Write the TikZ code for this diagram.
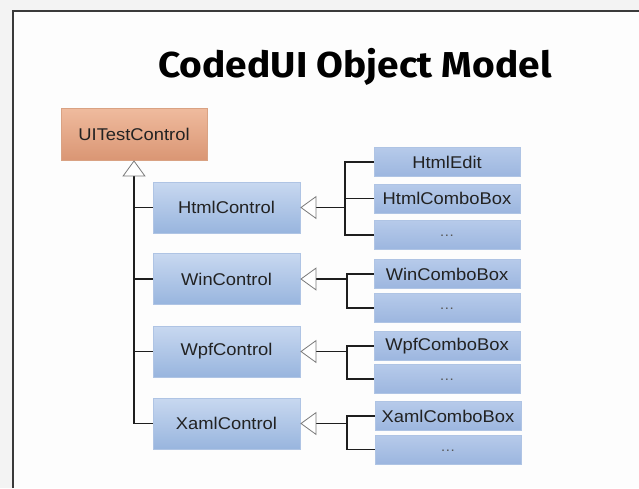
\documentclass[tikz,border=0pt]{standalone}
\usepackage{fontspec}
\setmainfont{Liberation Sans}
\newfontfamily\lblfont[FakeStretch=1.08]{Liberation Sans}
\newfontfamily\titlefont[FakeStretch=1.08]{Fira Sans}
\usetikzlibrary{arrows.meta}
\definecolor{bgout}{HTML}{F3F3F3}
\definecolor{bgin}{HTML}{FDFDFD}
\definecolor{frameline}{HTML}{3A3A3A}
\definecolor{txt}{HTML}{222222}
\definecolor{dotcol}{HTML}{555555}
\definecolor{oranTop}{HTML}{EFBB9E}
\definecolor{oranBot}{HTML}{DA9674}
\definecolor{oranEdge}{HTML}{D9A283}
\definecolor{blueTop}{HTML}{C8D8F0}
\definecolor{blueBot}{HTML}{98B5DE}
\definecolor{blueEdge}{HTML}{AFC4E4}
\definecolor{kidTop}{HTML}{B6CAEA}
\definecolor{kidBot}{HTML}{9CB6DF}
\definecolor{triEdge}{HTML}{7A7A7A}
\definecolor{lineCol}{HTML}{1E1E1E}
\tikzset{
  base/.style={font=\lblfont\fontsize{17}{19}\selectfont, text=txt, inner sep=0pt},
  rootbox/.style={base, minimum width=146pt, minimum height=52pt, top color=oranTop, bottom color=oranBot, draw=oranEdge, line width=0.6pt},
  ctrlbox/.style={base, minimum width=147pt, minimum height=51pt, top color=blueTop, bottom color=blueBot, draw=blueEdge, line width=0.6pt},
  kidbox/.style={base, minimum width=146pt, minimum height=29pt, top color=kidTop, bottom color=kidBot, draw=blueEdge, line width=0.5pt},
  dotsbox/.style={kidbox, font=\lblfont\fontsize{14}{15}\selectfont, text=dotcol},
  conn/.style={draw=lineCol, line width=1.9pt},
  inh/.style={conn, arrows={-Triangle[width=23pt,length=16pt,color=triEdge,fill=white,line width=0.8pt]}},
}
\begin{document}
\begin{tikzpicture}[x=1pt,y=-1pt]
\useasboundingbox (0,0) rectangle (639,488);
\fill[bgout] (0,0) rectangle (639,488);
\fill[bgin] (13,11) rectangle (639,488);
\draw[frameline, line width=1.3pt] (13,488) -- (13,11) -- (639,11);

\node[anchor=base, font=\titlefont\bfseries\fontsize{36}{40}\selectfont, text=black, inner sep=0pt] (title) at (355,77) {CodedUI Object Model};

\node[rootbox] (uitest) at (134,134) {UITestControl};

\node[ctrlbox] (html) at (226.5,207.5) {HtmlControl};
\node[ctrlbox] (win)  at (226.5,279) {WinControl};
\node[ctrlbox] (wpf)  at (226.5,351.5) {WpfControl};
\node[ctrlbox] (xaml) at (226.5,423.5) {XamlControl};

\node[kidbox] (htmledit)  at (447,162) {HtmlEdit};
\node[kidbox] (htmlcombo) at (447,198.5) {HtmlComboBox};
\node[dotsbox] (htmldots)  at (447,235) {\raisebox{-3pt}{\ldots}};
\node[kidbox] (wincombo)  at (447,274) {WinComboBox};
\node[dotsbox] (windots)   at (447,308) {\raisebox{-3pt}{\ldots}};
\node[kidbox] (wpfcombo)  at (447,346) {WpfComboBox};
\node[dotsbox] (wpfdots)   at (447,379) {\raisebox{-3pt}{\ldots}};
\node[kidbox] (xamlcombo) at (448,416) {XamlComboBox};
\node[dotsbox] (xamldots)  at (448,449.5) {\raisebox{-3pt}{\ldots}};

% left trunk
\draw[conn] (html.west) -- (html.west -| uitest.south);
\draw[conn] (win.west) -- (win.west -| uitest.south);
\draw[conn] (wpf.west) -- (wpf.west -| uitest.south);
\draw[inh] (xaml.west) -| (uitest.south);

% junctions
\coordinate (jhtml) at (345,207.5);
\coordinate (jwin) at (347,279);
\coordinate (jwpf) at (347,351.5);
\coordinate (jxaml) at (347,423.5);

\draw[conn] (htmledit.west) -| (jhtml) |- (htmldots.west);
\draw[conn] (htmlcombo.west) -- (htmlcombo.west -| jhtml);
\draw[inh] (jhtml) -- (html.east);

\draw[conn] (wincombo.west) -| (jwin) |- (windots.west);
\draw[inh] (jwin) -- (win.east);

\draw[conn] (wpfcombo.west) -| (jwpf) |- (wpfdots.west);
\draw[inh] (jwpf) -- (wpf.east);

\draw[conn] (xamlcombo.west) -| (jxaml) |- (xamldots.west);
\draw[inh] (jxaml) -- (xaml.east);
\end{tikzpicture}
\end{document}
